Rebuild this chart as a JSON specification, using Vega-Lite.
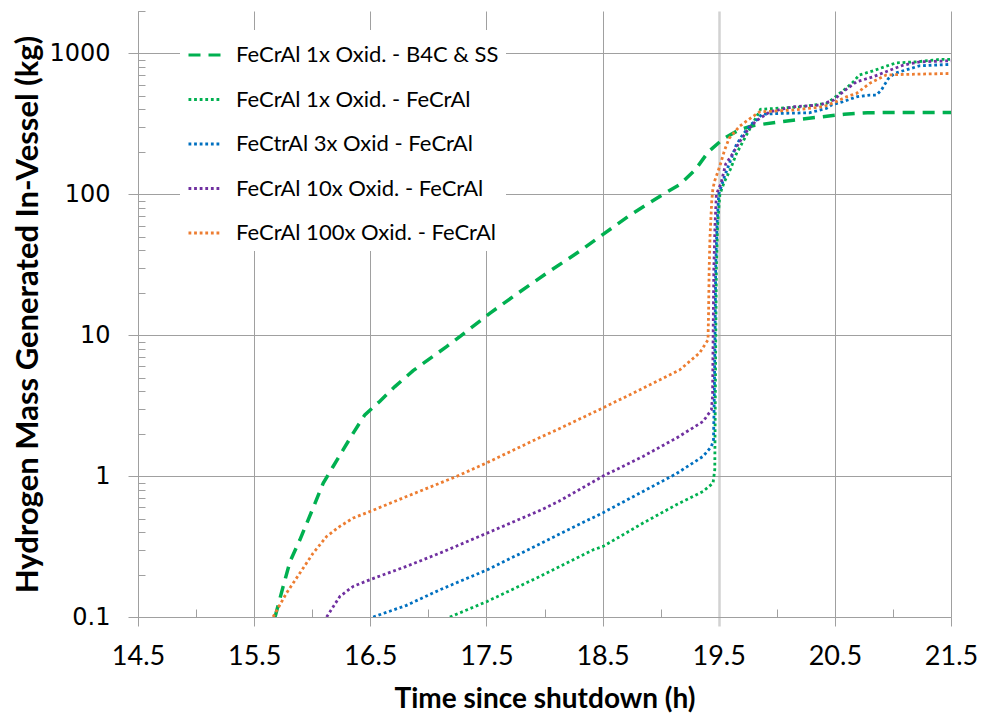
{
  "$schema": "https://vega.github.io/schema/vega-lite/v6.json",
  "width": 813,
  "height": 606,
  "autosize": {"type": "none"},
  "padding": {"left": 138, "top": 11, "right": 30, "bottom": 98},
  "background": "white",
  "config": {
    "view": {"stroke": null},
    "legend": {
      "orient": "none", "legendX": 42, "legendY": 19, "title": null,
      "symbolType": "stroke", "symbolSize": 1089, "symbolStrokeWidth": 3,
      "labelFont": "Lato", "labelFontSize": 22, "labelColor": "black",
      "labelOffset": 13, "rowPadding": 15.5, "padding": 7, "fillColor": "white", "labelLimit": 500
    }
  },
  "datasets": {
    "h2": [
      {"series": "FeCrAl 1x Oxid. - B4C & SS", "t": 15.68, "h": 0.1},
      {"series": "FeCrAl 1x Oxid. - B4C & SS", "t": 15.75, "h": 0.165},
      {"series": "FeCrAl 1x Oxid. - B4C & SS", "t": 15.81, "h": 0.249},
      {"series": "FeCrAl 1x Oxid. - B4C & SS", "t": 15.894, "h": 0.353},
      {"series": "FeCrAl 1x Oxid. - B4C & SS", "t": 15.995, "h": 0.561},
      {"series": "FeCrAl 1x Oxid. - B4C & SS", "t": 16.095, "h": 0.892},
      {"series": "FeCrAl 1x Oxid. - B4C & SS", "t": 16.18, "h": 1.17},
      {"series": "FeCrAl 1x Oxid. - B4C & SS", "t": 16.267, "h": 1.54},
      {"series": "FeCrAl 1x Oxid. - B4C & SS", "t": 16.353, "h": 2.02},
      {"series": "FeCrAl 1x Oxid. - B4C & SS", "t": 16.453, "h": 2.72},
      {"series": "FeCrAl 1x Oxid. - B4C & SS", "t": 16.583, "h": 3.4},
      {"series": "FeCrAl 1x Oxid. - B4C & SS", "t": 16.712, "h": 4.32},
      {"series": "FeCrAl 1x Oxid. - B4C & SS", "t": 16.869, "h": 5.6},
      {"series": "FeCrAl 1x Oxid. - B4C & SS", "t": 17.157, "h": 8.3},
      {"series": "FeCrAl 1x Oxid. - B4C & SS", "t": 17.271, "h": 9.77},
      {"series": "FeCrAl 1x Oxid. - B4C & SS", "t": 17.529, "h": 14.3},
      {"series": "FeCrAl 1x Oxid. - B4C & SS", "t": 17.73, "h": 18.8},
      {"series": "FeCrAl 1x Oxid. - B4C & SS", "t": 18.017, "h": 27.5},
      {"series": "FeCrAl 1x Oxid. - B4C & SS", "t": 18.304, "h": 39.5},
      {"series": "FeCrAl 1x Oxid. - B4C & SS", "t": 18.504, "h": 52},
      {"series": "FeCrAl 1x Oxid. - B4C & SS", "t": 18.734, "h": 71},
      {"series": "FeCrAl 1x Oxid. - B4C & SS", "t": 19.021, "h": 100},
      {"series": "FeCrAl 1x Oxid. - B4C & SS", "t": 19.164, "h": 117},
      {"series": "FeCrAl 1x Oxid. - B4C & SS", "t": 19.3, "h": 150},
      {"series": "FeCrAl 1x Oxid. - B4C & SS", "t": 19.41, "h": 200},
      {"series": "FeCrAl 1x Oxid. - B4C & SS", "t": 19.54, "h": 248},
      {"series": "FeCrAl 1x Oxid. - B4C & SS", "t": 19.68, "h": 288},
      {"series": "FeCrAl 1x Oxid. - B4C & SS", "t": 19.8, "h": 308},
      {"series": "FeCrAl 1x Oxid. - B4C & SS", "t": 20.03, "h": 327},
      {"series": "FeCrAl 1x Oxid. - B4C & SS", "t": 20.2, "h": 341},
      {"series": "FeCrAl 1x Oxid. - B4C & SS", "t": 20.39, "h": 355},
      {"series": "FeCrAl 1x Oxid. - B4C & SS", "t": 20.58, "h": 370},
      {"series": "FeCrAl 1x Oxid. - B4C & SS", "t": 20.78, "h": 379},
      {"series": "FeCrAl 1x Oxid. - B4C & SS", "t": 21.0, "h": 381},
      {"series": "FeCrAl 1x Oxid. - B4C & SS", "t": 21.5, "h": 381},

      {"series": "FeCrAl 1x Oxid. - FeCrAl", "t": 17.185, "h": 0.1},
      {"series": "FeCrAl 1x Oxid. - FeCrAl", "t": 17.506, "h": 0.129},
      {"series": "FeCrAl 1x Oxid. - FeCrAl", "t": 17.96, "h": 0.194},
      {"series": "FeCrAl 1x Oxid. - FeCrAl", "t": 18.42, "h": 0.3},
      {"series": "FeCrAl 1x Oxid. - FeCrAl", "t": 18.504, "h": 0.317},
      {"series": "FeCrAl 1x Oxid. - FeCrAl", "t": 18.848, "h": 0.464},
      {"series": "FeCrAl 1x Oxid. - FeCrAl", "t": 19.135, "h": 0.626},
      {"series": "FeCrAl 1x Oxid. - FeCrAl", "t": 19.365, "h": 0.778},
      {"series": "FeCrAl 1x Oxid. - FeCrAl", "t": 19.451, "h": 0.892},
      {"series": "FeCrAl 1x Oxid. - FeCrAl", "t": 19.466, "h": 1.11},
      {"series": "FeCrAl 1x Oxid. - FeCrAl", "t": 19.47, "h": 3},
      {"series": "FeCrAl 1x Oxid. - FeCrAl", "t": 19.475, "h": 10},
      {"series": "FeCrAl 1x Oxid. - FeCrAl", "t": 19.48, "h": 30},
      {"series": "FeCrAl 1x Oxid. - FeCrAl", "t": 19.49, "h": 60},
      {"series": "FeCrAl 1x Oxid. - FeCrAl", "t": 19.51, "h": 100},
      {"series": "FeCrAl 1x Oxid. - FeCrAl", "t": 19.544, "h": 120},
      {"series": "FeCrAl 1x Oxid. - FeCrAl", "t": 19.6, "h": 150},
      {"series": "FeCrAl 1x Oxid. - FeCrAl", "t": 19.652, "h": 194},
      {"series": "FeCrAl 1x Oxid. - FeCrAl", "t": 19.724, "h": 250},
      {"series": "FeCrAl 1x Oxid. - FeCrAl", "t": 19.795, "h": 321},
      {"series": "FeCrAl 1x Oxid. - FeCrAl", "t": 19.838, "h": 370},
      {"series": "FeCrAl 1x Oxid. - FeCrAl", "t": 19.86, "h": 401},
      {"series": "FeCrAl 1x Oxid. - FeCrAl", "t": 20.2, "h": 417},
      {"series": "FeCrAl 1x Oxid. - FeCrAl", "t": 20.43, "h": 442},
      {"series": "FeCrAl 1x Oxid. - FeCrAl", "t": 20.47, "h": 467},
      {"series": "FeCrAl 1x Oxid. - FeCrAl", "t": 20.54, "h": 520},
      {"series": "FeCrAl 1x Oxid. - FeCrAl", "t": 20.61, "h": 578},
      {"series": "FeCrAl 1x Oxid. - FeCrAl", "t": 20.66, "h": 630},
      {"series": "FeCrAl 1x Oxid. - FeCrAl", "t": 20.71, "h": 702},
      {"series": "FeCrAl 1x Oxid. - FeCrAl", "t": 20.83, "h": 753},
      {"series": "FeCrAl 1x Oxid. - FeCrAl", "t": 20.97, "h": 826},
      {"series": "FeCrAl 1x Oxid. - FeCrAl", "t": 21.03, "h": 857},
      {"series": "FeCrAl 1x Oxid. - FeCrAl", "t": 21.2, "h": 871},
      {"series": "FeCrAl 1x Oxid. - FeCrAl", "t": 21.4, "h": 906},
      {"series": "FeCrAl 1x Oxid. - FeCrAl", "t": 21.5, "h": 906},

      {"series": "FeCtrAl 3x Oxid - FeCrAl", "t": 16.525, "h": 0.1},
      {"series": "FeCtrAl 3x Oxid - FeCrAl", "t": 16.812, "h": 0.121},
      {"series": "FeCtrAl 3x Oxid - FeCrAl", "t": 17.099, "h": 0.156},
      {"series": "FeCtrAl 3x Oxid - FeCrAl", "t": 17.506, "h": 0.216},
      {"series": "FeCtrAl 3x Oxid - FeCrAl", "t": 17.96, "h": 0.33},
      {"series": "FeCtrAl 3x Oxid - FeCrAl", "t": 18.12, "h": 0.385},
      {"series": "FeCtrAl 3x Oxid - FeCrAl", "t": 18.504, "h": 0.55},
      {"series": "FeCtrAl 3x Oxid - FeCrAl", "t": 18.848, "h": 0.778},
      {"series": "FeCtrAl 3x Oxid - FeCrAl", "t": 19.135, "h": 1.04},
      {"series": "FeCtrAl 3x Oxid - FeCrAl", "t": 19.365, "h": 1.38},
      {"series": "FeCtrAl 3x Oxid - FeCrAl", "t": 19.437, "h": 1.62},
      {"series": "FeCtrAl 3x Oxid - FeCrAl", "t": 19.455, "h": 1.81},
      {"series": "FeCtrAl 3x Oxid - FeCrAl", "t": 19.462, "h": 3.67},
      {"series": "FeCtrAl 3x Oxid - FeCrAl", "t": 19.468, "h": 10},
      {"series": "FeCtrAl 3x Oxid - FeCrAl", "t": 19.474, "h": 30},
      {"series": "FeCtrAl 3x Oxid - FeCrAl", "t": 19.485, "h": 60},
      {"series": "FeCtrAl 3x Oxid - FeCrAl", "t": 19.5, "h": 100},
      {"series": "FeCtrAl 3x Oxid - FeCrAl", "t": 19.55, "h": 134},
      {"series": "FeCtrAl 3x Oxid - FeCrAl", "t": 19.606, "h": 178},
      {"series": "FeCtrAl 3x Oxid - FeCrAl", "t": 19.65, "h": 223},
      {"series": "FeCtrAl 3x Oxid - FeCrAl", "t": 19.705, "h": 264},
      {"series": "FeCtrAl 3x Oxid - FeCrAl", "t": 19.777, "h": 313},
      {"series": "FeCtrAl 3x Oxid - FeCrAl", "t": 19.834, "h": 340},
      {"series": "FeCtrAl 3x Oxid - FeCrAl", "t": 19.853, "h": 355},
      {"series": "FeCtrAl 3x Oxid - FeCrAl", "t": 19.87, "h": 370},
      {"series": "FeCtrAl 3x Oxid - FeCrAl", "t": 20.02, "h": 375},
      {"series": "FeCtrAl 3x Oxid - FeCrAl", "t": 20.28, "h": 379},
      {"series": "FeCtrAl 3x Oxid - FeCrAl", "t": 20.427, "h": 407},
      {"series": "FeCtrAl 3x Oxid - FeCrAl", "t": 20.47, "h": 430},
      {"series": "FeCtrAl 3x Oxid - FeCrAl", "t": 20.57, "h": 454},
      {"series": "FeCtrAl 3x Oxid - FeCrAl", "t": 20.686, "h": 492},
      {"series": "FeCtrAl 3x Oxid - FeCrAl", "t": 20.8, "h": 506},
      {"series": "FeCtrAl 3x Oxid - FeCrAl", "t": 20.858, "h": 506},
      {"series": "FeCtrAl 3x Oxid - FeCrAl", "t": 20.9, "h": 549},
      {"series": "FeCtrAl 3x Oxid - FeCrAl", "t": 20.96, "h": 662},
      {"series": "FeCtrAl 3x Oxid - FeCrAl", "t": 21.014, "h": 721},
      {"series": "FeCtrAl 3x Oxid - FeCrAl", "t": 21.06, "h": 741},
      {"series": "FeCtrAl 3x Oxid - FeCrAl", "t": 21.23, "h": 817},
      {"series": "FeCtrAl 3x Oxid - FeCrAl", "t": 21.5, "h": 836},

      {"series": "FeCrAl 10x Oxid. - FeCrAl", "t": 16.124, "h": 0.1},
      {"series": "FeCrAl 10x Oxid. - FeCrAl", "t": 16.238, "h": 0.14},
      {"series": "FeCrAl 10x Oxid. - FeCrAl", "t": 16.353, "h": 0.165},
      {"series": "FeCrAl 10x Oxid. - FeCrAl", "t": 16.497, "h": 0.184},
      {"series": "FeCrAl 10x Oxid. - FeCrAl", "t": 16.812, "h": 0.229},
      {"series": "FeCrAl 10x Oxid. - FeCrAl", "t": 17.099, "h": 0.284},
      {"series": "FeCrAl 10x Oxid. - FeCrAl", "t": 17.506, "h": 0.394},
      {"series": "FeCrAl 10x Oxid. - FeCrAl", "t": 17.96, "h": 0.57},
      {"series": "FeCrAl 10x Oxid. - FeCrAl", "t": 18.12, "h": 0.66},
      {"series": "FeCrAl 10x Oxid. - FeCrAl", "t": 18.504, "h": 1.0},
      {"series": "FeCrAl 10x Oxid. - FeCrAl", "t": 18.848, "h": 1.38},
      {"series": "FeCrAl 10x Oxid. - FeCrAl", "t": 19.135, "h": 1.86},
      {"series": "FeCrAl 10x Oxid. - FeCrAl", "t": 19.365, "h": 2.44},
      {"series": "FeCrAl 10x Oxid. - FeCrAl", "t": 19.437, "h": 2.95},
      {"series": "FeCrAl 10x Oxid. - FeCrAl", "t": 19.447, "h": 3.67},
      {"series": "FeCrAl 10x Oxid. - FeCrAl", "t": 19.452, "h": 10},
      {"series": "FeCrAl 10x Oxid. - FeCrAl", "t": 19.458, "h": 30},
      {"series": "FeCrAl 10x Oxid. - FeCrAl", "t": 19.468, "h": 60},
      {"series": "FeCrAl 10x Oxid. - FeCrAl", "t": 19.48, "h": 100},
      {"series": "FeCrAl 10x Oxid. - FeCrAl", "t": 19.52, "h": 120},
      {"series": "FeCrAl 10x Oxid. - FeCrAl", "t": 19.56, "h": 164},
      {"series": "FeCrAl 10x Oxid. - FeCrAl", "t": 19.62, "h": 194},
      {"series": "FeCrAl 10x Oxid. - FeCrAl", "t": 19.68, "h": 236},
      {"series": "FeCrAl 10x Oxid. - FeCrAl", "t": 19.75, "h": 287},
      {"series": "FeCrAl 10x Oxid. - FeCrAl", "t": 19.82, "h": 331},
      {"series": "FeCrAl 10x Oxid. - FeCrAl", "t": 19.853, "h": 345},
      {"series": "FeCrAl 10x Oxid. - FeCrAl", "t": 19.94, "h": 385},
      {"series": "FeCrAl 10x Oxid. - FeCrAl", "t": 20.14, "h": 418},
      {"series": "FeCrAl 10x Oxid. - FeCrAl", "t": 20.37, "h": 430},
      {"series": "FeCrAl 10x Oxid. - FeCrAl", "t": 20.49, "h": 467},
      {"series": "FeCrAl 10x Oxid. - FeCrAl", "t": 20.57, "h": 534},
      {"series": "FeCrAl 10x Oxid. - FeCrAl", "t": 20.686, "h": 629},
      {"series": "FeCrAl 10x Oxid. - FeCrAl", "t": 20.83, "h": 683},
      {"series": "FeCrAl 10x Oxid. - FeCrAl", "t": 20.94, "h": 741},
      {"series": "FeCrAl 10x Oxid. - FeCrAl", "t": 21.09, "h": 826},
      {"series": "FeCrAl 10x Oxid. - FeCrAl", "t": 21.23, "h": 871},
      {"series": "FeCrAl 10x Oxid. - FeCrAl", "t": 21.5, "h": 887},

      {"series": "FeCrAl 100x Oxid. - FeCrAl", "t": 15.663, "h": 0.1},
      {"series": "FeCrAl 100x Oxid. - FeCrAl", "t": 15.779, "h": 0.148},
      {"series": "FeCrAl 100x Oxid. - FeCrAl", "t": 15.894, "h": 0.205},
      {"series": "FeCrAl 100x Oxid. - FeCrAl", "t": 16.008, "h": 0.284},
      {"series": "FeCrAl 100x Oxid. - FeCrAl", "t": 16.124, "h": 0.373},
      {"series": "FeCrAl 100x Oxid. - FeCrAl", "t": 16.238, "h": 0.44},
      {"series": "FeCrAl 100x Oxid. - FeCrAl", "t": 16.353, "h": 0.504},
      {"series": "FeCrAl 100x Oxid. - FeCrAl", "t": 16.497, "h": 0.561},
      {"series": "FeCrAl 100x Oxid. - FeCrAl", "t": 16.812, "h": 0.716},
      {"series": "FeCrAl 100x Oxid. - FeCrAl", "t": 17.242, "h": 0.994},
      {"series": "FeCrAl 100x Oxid. - FeCrAl", "t": 17.501, "h": 1.24},
      {"series": "FeCrAl 100x Oxid. - FeCrAl", "t": 17.96, "h": 1.88},
      {"series": "FeCrAl 100x Oxid. - FeCrAl", "t": 18.101, "h": 2.12},
      {"series": "FeCrAl 100x Oxid. - FeCrAl", "t": 18.504, "h": 3.05},
      {"series": "FeCrAl 100x Oxid. - FeCrAl", "t": 18.877, "h": 4.32},
      {"series": "FeCrAl 100x Oxid. - FeCrAl", "t": 19.164, "h": 5.67},
      {"series": "FeCrAl 100x Oxid. - FeCrAl", "t": 19.336, "h": 7.5},
      {"series": "FeCrAl 100x Oxid. - FeCrAl", "t": 19.408, "h": 9.27},
      {"series": "FeCrAl 100x Oxid. - FeCrAl", "t": 19.413, "h": 15},
      {"series": "FeCrAl 100x Oxid. - FeCrAl", "t": 19.418, "h": 30},
      {"series": "FeCrAl 100x Oxid. - FeCrAl", "t": 19.425, "h": 50},
      {"series": "FeCrAl 100x Oxid. - FeCrAl", "t": 19.44, "h": 90},
      {"series": "FeCrAl 100x Oxid. - FeCrAl", "t": 19.45, "h": 110},
      {"series": "FeCrAl 100x Oxid. - FeCrAl", "t": 19.466, "h": 125},
      {"series": "FeCrAl 100x Oxid. - FeCrAl", "t": 19.51, "h": 159},
      {"series": "FeCrAl 100x Oxid. - FeCrAl", "t": 19.55, "h": 205},
      {"series": "FeCrAl 100x Oxid. - FeCrAl", "t": 19.59, "h": 250},
      {"series": "FeCrAl 100x Oxid. - FeCrAl", "t": 19.68, "h": 304},
      {"series": "FeCrAl 100x Oxid. - FeCrAl", "t": 19.78, "h": 350},
      {"series": "FeCrAl 100x Oxid. - FeCrAl", "t": 19.853, "h": 385},
      {"series": "FeCrAl 100x Oxid. - FeCrAl", "t": 20.14, "h": 396},
      {"series": "FeCrAl 100x Oxid. - FeCrAl", "t": 20.4, "h": 418},
      {"series": "FeCrAl 100x Oxid. - FeCrAl", "t": 20.51, "h": 454},
      {"series": "FeCrAl 100x Oxid. - FeCrAl", "t": 20.6, "h": 492},
      {"series": "FeCrAl 100x Oxid. - FeCrAl", "t": 20.686, "h": 520},
      {"series": "FeCrAl 100x Oxid. - FeCrAl", "t": 20.8, "h": 613},
      {"series": "FeCrAl 100x Oxid. - FeCrAl", "t": 20.94, "h": 702},
      {"series": "FeCrAl 100x Oxid. - FeCrAl", "t": 21.06, "h": 708},
      {"series": "FeCrAl 100x Oxid. - FeCrAl", "t": 21.5, "h": 721}
    ]
  },
  "data": {"name": "h2"},
  "layer": [
    {
      "layer": [
        {
          "transform": [{"filter": "datum.series === 'FeCrAl 1x Oxid. - B4C & SS'"}],
          "mark": {"type": "line", "strokeWidth": 3.5, "clip": true},
          "encoding": {
            "x": {"field": "t", "type": "quantitative",
              "scale": {"domain": [14.5, 21.5], "nice": false, "zero": false},
              "axis": {"orient": "bottom", "values": [14.5, 15.5, 16.5, 17.5, 18.5, 19.5, 20.5, 21.5], "format": ".1f",
                "grid": true,
                "gridColor": {"condition": {"test": "datum.value === 19.5", "value": "#d2d2d2"}, "value": "#a0a0a0"},
                "gridWidth": {"condition": {"test": "datum.value === 19.5", "value": 2.5}, "value": 1},
                "tickColor": {"condition": {"test": "datum.value === 19.5", "value": "#d2d2d2"}, "value": "#a0a0a0"},
                "tickWidth": {"condition": {"test": "datum.value === 19.5", "value": 2.5}, "value": 1},
                "domainColor": "#a0a0a0", "tickSize": 9,
                "labelFont": "Lato", "labelFontSize": 27, "labelColor": "black", "labelPadding": 17,
                "labelFlush": false, "labelOverlap": false,
                "title": "Time since shutdown (h)", "titleFont": "Lato", "titleFontSize": 28,
                "titleFontWeight": "bold", "titleColor": "black", "titleY": 90, "titleBaseline": "alphabetic"}},
            "y": {"field": "h", "type": "quantitative",
              "scale": {"type": "log", "domain": [0.1, 2000], "nice": false},
              "axis": {"orient": "left", "values": [0.1, 1, 10, 100, 1000], "format": "~g", "grid": true,
                "gridColor": "#a0a0a0", "domainColor": "#a0a0a0", "tickColor": "#a0a0a0", "tickSize": 10,
                "labelFont": "DejaVu Sans", "labelFontSize": 24, "labelColor": "black", "labelPadding": 18,
                "labelFlush": false, "labelOverlap": false,
                "title": "Hydrogen Mass Generated In-Vessel (kg)", "titleFont": "Lato",
                "titleFontSize": 31, "titleFontWeight": "bold", "titleColor": "black",
                "titleX": -101, "titleY": 303, "titleBaseline": "alphabetic"}},
            "color": {"field": "series", "type": "nominal",
              "scale": {"domain": ["FeCrAl 1x Oxid. - B4C & SS", "FeCrAl 1x Oxid. - FeCrAl", "FeCtrAl 3x Oxid - FeCrAl", "FeCrAl 10x Oxid. - FeCrAl", "FeCrAl 100x Oxid. - FeCrAl"],
                "range": ["#00B050", "#00B050", "#0070C0", "#7030A0", "#ED7D31"]}},
            "strokeDash": {"field": "series", "type": "nominal",
              "scale": {"domain": ["FeCrAl 1x Oxid. - B4C & SS", "FeCrAl 1x Oxid. - FeCrAl", "FeCtrAl 3x Oxid - FeCrAl", "FeCrAl 10x Oxid. - FeCrAl", "FeCrAl 100x Oxid. - FeCrAl"],
                "range": [[12, 8], [2.8, 2.8], [2.8, 2.8], [2.8, 2.8], [2.8, 2.8]]}}
          }
        },
        {
          "transform": [{"filter": "datum.series !== 'FeCrAl 1x Oxid. - B4C & SS'"}],
          "mark": {"type": "line", "strokeWidth": 2.8, "clip": true},
          "encoding": {
            "x": {"field": "t", "type": "quantitative"},
            "y": {"field": "h", "type": "quantitative"},
            "color": {"field": "series", "type": "nominal"},
            "strokeDash": {"field": "series", "type": "nominal"}
          }
        }
      ]
    },
    {
      "mark": {"type": "point", "opacity": 0},
      "encoding": {
        "x": {"field": "t", "type": "quantitative",
          "axis": {"orient": "bottom", "values": [15, 16, 17, 18, 19, 20, 21], "labels": false, "domain": false,
            "grid": false, "tickSize": -8, "tickColor": "#a0a0a0", "title": null}},
        "y": {"field": "h", "type": "quantitative", "scale": {"type": "log"},
          "axis": {"orient": "left", "values": [0.2, 0.3, 0.4, 0.5, 0.6, 0.7, 0.8, 0.9, 2, 3, 4, 5, 6, 7, 8, 9, 20, 30, 40, 50, 60, 70, 80, 90, 200, 300, 400, 500, 600, 700, 800, 900, 2000],
            "labels": false, "domain": false, "grid": false, "tickSize": -7, "tickColor": "#a0a0a0", "title": null}}
      }
    }
  ],
  "resolve": {"axis": {"x": "independent", "y": "independent"}}
}
